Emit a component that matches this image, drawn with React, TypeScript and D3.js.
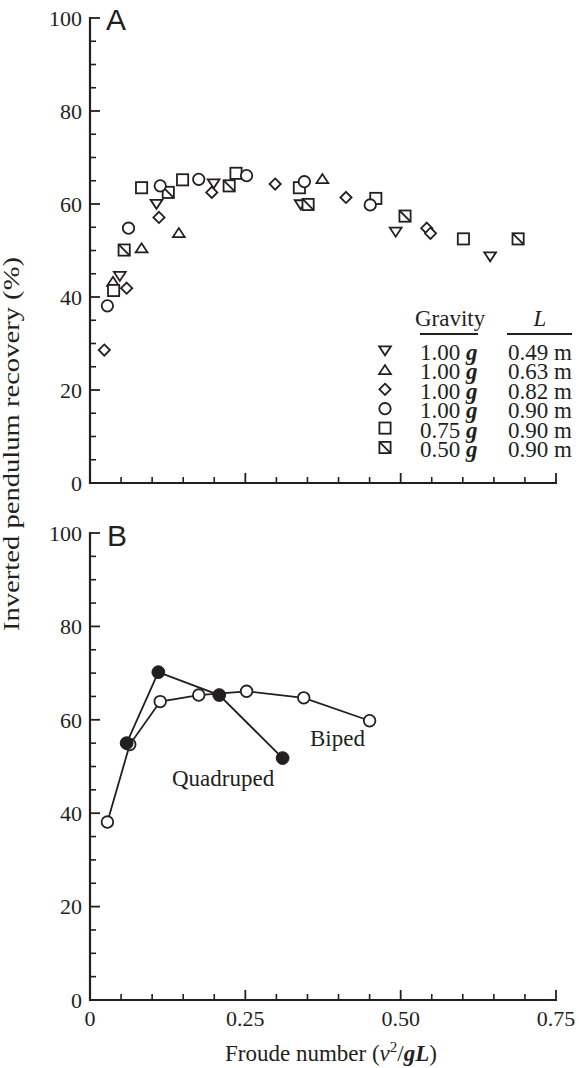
import React from 'react';
import * as d3 from 'd3';

// ---------- data ----------
type Pt = [number, number];
const triDown: Pt[] = [[0.048, 44.5], [0.107, 60.0], [0.199, 64.4], [0.339, 59.9], [0.492, 54.0], [0.644, 48.7]];
const triUp: Pt[] = [[0.037, 43.3], [0.083, 50.5], [0.143, 53.8], [0.374, 65.4]];
const diamonds: Pt[] = [[0.023, 28.6], [0.059, 41.9], [0.111, 57.1], [0.196, 62.5], [0.298, 64.3], [0.412, 61.4], [0.542, 54.8], [0.548, 53.7]];
const squares: Pt[] = [[0.038, 41.4], [0.083, 63.5], [0.149, 65.2], [0.235, 66.6], [0.337, 63.5], [0.460, 61.2], [0.601, 52.5]];
const slashSquares: Pt[] = [[0.055, 50.1], [0.126, 62.5], [0.224, 63.9], [0.351, 59.9], [0.507, 57.4], [0.689, 52.5]];
const circles: Pt[] = [[0.028, 38.1], [0.062, 54.8], [0.113, 63.9], [0.175, 65.3], [0.252, 66.1], [0.345, 64.8], [0.451, 59.8]];

const biped: Pt[] = [[0.028, 38.1], [0.064, 54.7], [0.113, 63.9], [0.175, 65.3], [0.252, 66.1], [0.344, 64.7], [0.450, 59.8]];
const quadruped: Pt[] = [[0.059, 55.0], [0.110, 70.2], [0.208, 65.3], [0.310, 51.8]];

const legendTypes = ['triDown', 'triUp', 'diamond', 'circle', 'square', 'slash'];
const legendGravity = ['1.00', '1.00', '1.00', '1.00', '0.75', '0.50'];
const legendL = ['0.49 m', '0.63 m', '0.82 m', '0.90 m', '0.90 m', '0.90 m'];

const yMajor = [0, 20, 40, 60, 80, 100];
const xMajor = [0, 0.25, 0.5, 0.75];
const xTickLabels = ['0', '0.25', '0.50', '0.75'];

// ---------- layout ----------
const W = 579, H = 1068;
const x = d3.scaleLinear().domain([0, 0.75]).range([90, 556]);
const yA = d3.scaleLinear().domain([0, 100]).range([483, 18]);
const yB = d3.scaleLinear().domain([0, 100]).range([1000, 533]);

const INK = '#231f20';
const SERIF = "'Liberation Serif', 'Times New Roman', serif";
const SANS = "'Liberation Sans', Arial, sans-serif";

const yMinor = d3.range(0, 101, 5).filter(v => v % 20 !== 0);
const xMinor = d3.range(0, 16).map(i => i * 0.05).filter(v => Math.abs(v / 0.25 - Math.round(v / 0.25)) > 1e-6);

function Marker({ type, cx, cy }: { type: string; cx: number; cy: number }) {
  const s = 5.6;
  const common = { fill: '#fff', stroke: INK, strokeWidth: 1.8 };
  const t = `translate(${cx},${cy})`;
  switch (type) {
    case 'triDown':
      return <path transform={t} d={`M-5.9,-4.2L5.9,-4.2L0,4.8Z`} {...common} strokeLinejoin="miter" />;
    case 'triUp':
      return <path transform={t} d={`M-5.9,4.2L5.9,4.2L0,-4.8Z`} {...common} />;
    case 'diamond':
      return <path transform={t} d={`M0,${-s}L${s},0L0,${s}L${-s},0Z`} {...common} />;
    case 'circle':
      return <circle cx={cx} cy={cy} r={5.7} {...common} />;
    case 'square':
      return <rect x={cx - s} y={cy - s} width={2 * s} height={2 * s} {...common} />;
    case 'slash':
      return (
        <g transform={t}>
          <rect x={-s} y={-s} width={2 * s} height={2 * s} {...common} />
          <path d={`M${-s},${-s}L${s},${s}`} stroke={INK} strokeWidth={1.8} />
        </g>
      );
    default:
      return null;
  }
}

function Axes({ y, showXLabels }: { y: d3.ScaleLinear<number, number>; showXLabels: boolean }) {
  const x0 = x(0), y0 = y(0);
  return (
    <g stroke={INK}>
      <line x1={x0} x2={x0} y1={y(100) - 1} y2={y0 + 1} strokeWidth={2.2} />
      <line x1={x0 - 1} x2={x(0.75) + 1} y1={y0} y2={y0} strokeWidth={2.2} />
      {yMajor.map(v => <line key={'ym' + v} x1={x0} x2={x0 + 10} y1={y(v)} y2={y(v)} strokeWidth={1.8} />)}
      {yMinor.map(v => <line key={'yn' + v} x1={x0} x2={x0 + 6} y1={y(v)} y2={y(v)} strokeWidth={1.6} />)}
      {xMajor.map(v => <line key={'xm' + v} x1={x(v)} x2={x(v)} y1={y0} y2={y0 - 10} strokeWidth={1.8} />)}
      {xMinor.map(v => <line key={'xn' + v} x1={x(v)} x2={x(v)} y1={y0} y2={y0 - 6} strokeWidth={1.6} />)}
      <g stroke="none" fill={INK} fontFamily={SERIF} fontSize={22}>
        {yMajor.map(v => (
          <text key={'yl' + v} x={x0 - 8} y={y(v)} dy="0.35em" textAnchor="end">{v}</text>
        ))}
        {showXLabels && xMajor.map((v, i) => (
          <text key={'xl' + v} x={x(v)} y={y0 + 26} textAnchor="middle">{xTickLabels[i]}</text>
        ))}
      </g>
    </g>
  );
}

export default function App() {
  const line = d3.line<Pt>().x(d => x(d[0])).y(d => yB(d[1]));
  const legendX = 385;
  const rowBase = 360;
  const rowStep = 19.4;
  return (
    <svg width={W} height={H} style={{ position: 'absolute', left: 0, top: 0, background: '#fff' }}>
      <rect width={W} height={H} fill="#fff" />
      {/* Panel A */}
      <Axes y={yA} showXLabels={false} />
      <text x={106} y={30} fontFamily={SANS} fontSize={30} fill={INK}>A</text>
      {triDown.map((d, i) => <Marker key={'td' + i} type="triDown" cx={x(d[0])} cy={yA(d[1])} />)}
      {triUp.map((d, i) => <Marker key={'tu' + i} type="triUp" cx={x(d[0])} cy={yA(d[1])} />)}
      {diamonds.map((d, i) => <Marker key={'di' + i} type="diamond" cx={x(d[0])} cy={yA(d[1])} />)}
      {squares.map((d, i) => <Marker key={'sq' + i} type="square" cx={x(d[0])} cy={yA(d[1])} />)}
      {slashSquares.map((d, i) => <Marker key={'ss' + i} type="slash" cx={x(d[0])} cy={yA(d[1])} />)}
      {circles.map((d, i) => <Marker key={'ci' + i} type="circle" cx={x(d[0])} cy={yA(d[1])} />)}

      {/* Legend */}
      <g fontFamily={SERIF} fontSize={23} fill={INK}>
        <text x={415} y={326}>Gravity</text>
        <text x={540} y={326} fontStyle="italic" textAnchor="middle">L</text>
        <line x1={420} x2={478} y1={334} y2={334} stroke={INK} strokeWidth={1.8} />
        <line x1={507} x2={572} y1={334} y2={334} stroke={INK} strokeWidth={1.8} />
        {legendTypes.map((t, i) => (
          <g key={'lg' + i}>
            <Marker type={t} cx={legendX} cy={rowBase + i * rowStep - 9.5} />
            <text x={420} y={rowBase + i * rowStep}>
              {legendGravity[i]} <tspan fontWeight="bold" fontStyle="italic">g</tspan>
            </text>
            <text x={508} y={rowBase + i * rowStep}>{legendL[i]}</text>
          </g>
        ))}
      </g>

      {/* Panel B */}
      <Axes y={yB} showXLabels={true} />
      <text x={107} y={546} fontFamily={SANS} fontSize={30} fill={INK}>B</text>
      <path d={line(biped) || ''} fill="none" stroke={INK} strokeWidth={1.8} />
      <path d={line(quadruped) || ''} fill="none" stroke={INK} strokeWidth={1.8} />
      {biped.map((d, i) => <circle key={'b' + i} cx={x(d[0])} cy={yB(d[1])} r={5.8} fill="#fff" stroke={INK} strokeWidth={1.8} />)}
      {quadruped.map((d, i) => <circle key={'q' + i} cx={x(d[0])} cy={yB(d[1])} r={6.4} fill={INK} stroke={INK} strokeWidth={1} />)}
      <g fontFamily={SERIF} fontSize={23} fill={INK}>
        <text x={172} y={786}>Quadruped</text>
        <text x={310} y={746}>Biped</text>
      </g>

      {/* Axis titles */}
      <text transform="translate(19,444) rotate(-90)" fontFamily={SERIF} fontSize={23} fill={INK}
        textAnchor="middle" textLength={374} lengthAdjust="spacingAndGlyphs">Inverted pendulum recovery (%)</text>
      <text x={225} y={1061} fontFamily={SERIF} fontSize={23} fill={INK}>
        Froude number (<tspan fontStyle="italic">v</tspan><tspan fontSize={15} dy={-9}>2</tspan><tspan dy={9}>/</tspan><tspan fontWeight="bold" fontStyle="italic">gL</tspan>)
      </text>
    </svg>
  );
}
